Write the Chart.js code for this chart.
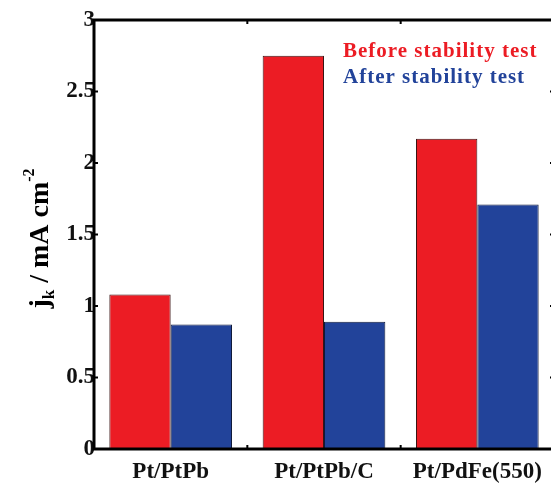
<!DOCTYPE html>
<html>
<head>
<meta charset="utf-8">
<script src="https://cdn.jsdelivr.net/npm/chart.js@4.4.0/dist/chart.umd.min.js"></script>
<style>
  html, body { margin: 0; padding: 0; background: #fff; overflow: hidden; }
  #wrap { width: 560px; height: 483px; }
</style>
</head>
<body>
<div id="wrap"><canvas id="chart" width="560" height="483"></canvas></div>
<script>
const categories = ["Pt/PtPb", "Pt/PtPb/C", "Pt/PdFe(550)"];
const beforeTest = [1.08, 2.75, 2.17];
const afterTest = [0.87, 0.89, 1.71];
const yMin = 0;
const yMax = 3;
const yStep = 0.5;

const RED = "#ec1c24";
const BLUE = "#22439a";
const SERIF = "'Liberation Serif', 'DejaVu Serif', serif";

// frame around the plot plus small inward tick marks
const framePlugin = {
  id: "frame",
  afterDatasetsDraw(chart) {
    const { ctx, chartArea: a, scales } = chart;
    ctx.save();
    ctx.strokeStyle = "#000";
    ctx.lineWidth = 3;
    ctx.strokeRect(a.left, a.top, a.right - a.left, a.bottom - a.top);

    ctx.lineWidth = 2;
    scales.y.ticks.forEach((t) => {
      const y = scales.y.getPixelForValue(t.value);
      ctx.beginPath();
      ctx.moveTo(a.left, y);
      ctx.lineTo(a.left + 4, y);
      ctx.moveTo(a.right, y);
      ctx.lineTo(a.right - 4, y);
      ctx.stroke();
    });
    for (let i = 0; i < categories.length - 1; i++) {
      const x = (scales.x.getPixelForValue(i) + scales.x.getPixelForValue(i + 1)) / 2;
      ctx.beginPath();
      ctx.moveTo(x, a.bottom);
      ctx.lineTo(x, a.bottom - 4);
      ctx.moveTo(x, a.top);
      ctx.lineTo(x, a.top + 4);
      ctx.stroke();
    }
    ctx.restore();
  },
};

// coloured text legend inside the plot
const textLegend = {
  id: "textLegend",
  afterDraw(chart) {
    const { ctx } = chart;
    ctx.save();
    ctx.font = "bold 21px " + SERIF;
    ctx.letterSpacing = "1px";
    ctx.textAlign = "left";
    ctx.textBaseline = "alphabetic";
    chart.data.datasets.forEach((ds, i) => {
      ctx.fillStyle = ds.backgroundColor;
      ctx.fillText(ds.label, 343, 57 + i * 26);
    });
    ctx.restore();
  },
};

// y axis title with subscript k and superscript -2
const yTitle = {
  id: "yTitle",
  afterDraw(chart) {
    const { ctx, chartArea: a } = chart;
    const parts = [
      { t: "j", size: 28, dy: 0 },
      { t: "k", size: 17, dy: 6 },
      { t: " / mA cm", size: 28, dy: 0 },
      { t: "-2", size: 16, dy: -14 },
    ];
    ctx.save();
    let total = 0;
    parts.forEach((p) => {
      ctx.font = "bold " + p.size + "px " + SERIF;
      p.w = ctx.measureText(p.t).width;
      total += p.w;
    });
    ctx.translate(48, (a.top + a.bottom) / 2 + 4);
    ctx.rotate(-Math.PI / 2);
    ctx.fillStyle = "#000";
    ctx.textBaseline = "alphabetic";
    let x = -total / 2;
    parts.forEach((p) => {
      ctx.font = "bold " + p.size + "px " + SERIF;
      ctx.fillText(p.t, x, p.dy);
      x += p.w;
    });
    ctx.restore();
  },
};

new Chart(document.getElementById("chart"), {
  type: "bar",
  data: {
    labels: categories,
    datasets: [
      {
        label: "Before stability test",
        data: beforeTest,
        backgroundColor: RED,
        borderColor: "#3a1414",
        borderWidth: 1,
        categoryPercentage: 0.8,
        barPercentage: 1.0,
      },
      {
        label: "After stability test",
        data: afterTest,
        backgroundColor: BLUE,
        borderColor: "#101a3a",
        borderWidth: 1,
        categoryPercentage: 0.8,
        barPercentage: 1.0,
      },
    ],
  },
  options: {
    responsive: false,
    animation: false,
    layout: { padding: { top: 20, right: 6, left: 0, bottom: 0 } },
    plugins: {
      legend: { display: false },
      tooltip: { enabled: false },
    },
    scales: {
      x: {
        grid: { display: false, drawTicks: false },
        border: { display: false },
        ticks: {
          color: "#111",
          padding: 9,
          font: { family: SERIF, size: 23, weight: "bold" },
        },
        afterFit(scale) { scale.height = 34; },
      },
      y: {
        min: yMin,
        max: yMax,
        grid: { display: false, drawTicks: false },
        border: { display: false },
        ticks: {
          stepSize: yStep,
          color: "#111",
          padding: -1,
          font: { family: SERIF, size: 23, weight: "bold" },
          callback: (v) => String(Number(v)),
        },
        afterFit(scale) { scale.width = 94; },
      },
    },
  },
  plugins: [framePlugin, textLegend, yTitle],
});
</script>
</body>
</html>
